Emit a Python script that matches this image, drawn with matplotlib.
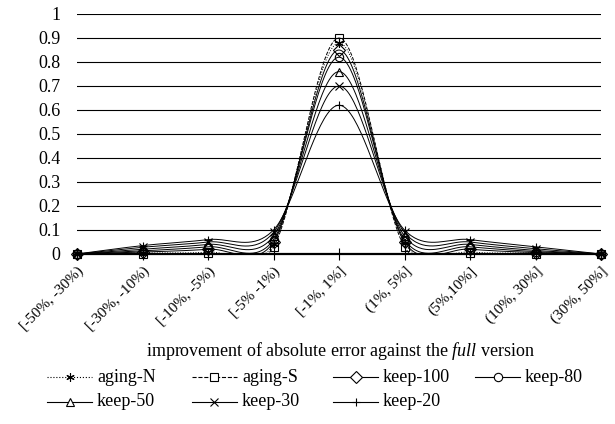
import numpy as np
import matplotlib
matplotlib.use("Agg")
import matplotlib.pyplot as plt
from matplotlib.lines import Line2D
import matplotlib.transforms as mtransforms

plt.rcParams['font.family'] = ['Liberation Serif', 'DejaVu Serif']
plt.rcParams['mathtext.fontset'] = 'custom'
plt.rcParams['mathtext.rm'] = 'Liberation Serif'
plt.rcParams['mathtext.it'] = 'Liberation Serif:italic'

categories = ["[-50%, -30%)", "[-30%, -10%)", "[-10%, -5%)", "[-5% -1%)", "[-1%, 1%]",
              "(1%, 5%]", "(5%,10%]", "(10%, 30%]", "(30%, 50%]"]
yticks = [0, 0.1, 0.2, 0.3, 0.4, 0.5, 0.6, 0.7, 0.8, 0.9, 1]
ytick_labels = ["0", "0.1", "0.2", "0.3", "0.4", "0.5", "0.6", "0.7", "0.8", "0.9", "1"]

aging_n = [0, 0.004, 0.008, 0.04, 0.88, 0.045, 0.008, 0.004, 0]
aging_s = [0, 0.002, 0.003, 0.03, 0.90, 0.03, 0.003, 0.002, 0]
keep_100 = [0, 0.008, 0.02, 0.05, 0.85, 0.05, 0.02, 0.006, 0]
keep_80 = [0, 0.013, 0.03, 0.06, 0.82, 0.06, 0.03, 0.01, 0]
keep_50 = [0, 0.02, 0.04, 0.075, 0.76, 0.075, 0.04, 0.015, 0]
keep_30 = [0, 0.028, 0.05, 0.09, 0.70, 0.09, 0.05, 0.022, 0]
keep_20 = [0, 0.035, 0.06, 0.10, 0.62, 0.10, 0.06, 0.03, 0]

series = [
    ("aging-N", aging_n, ':', (6, 2, 0)),
    ("aging-S", aging_s, '--', 's'),
    ("keep-100", keep_100, '-', 'D'),
    ("keep-80", keep_80, '-', 'o'),
    ("keep-50", keep_50, '-', '^'),
    ("keep-30", keep_30, '-', 'x'),
    ("keep-20", keep_20, '-', '+'),
]

W, H = 615, 424
AX_L, AX_R, AX_T, AX_B = 77, 601, 14, 254


def smooth(xs, ys, sx_px, sy_px, n=40):
    """Excel-like Bezier smoothing, control-point distance capped in pixel space."""
    P = np.column_stack([xs, ys]).astype(float)
    S = np.array([sx_px, sy_px])
    m = len(P)
    out = []

    def dist(a, b):
        return np.hypot(*((a - b) * S))

    for i in range(m - 1):
        p0 = P[i - 1] if i > 0 else P[i]
        p1 = P[i]
        p2 = P[i + 1]
        p3 = P[i + 2] if i + 2 < m else P[i + 1]
        d12 = dist(p1, p2)
        d02 = dist(p0, p2)
        d13 = dist(p1, p3)
        f1 = 1 / 6.0
        f2 = 1 / 6.0
        if d02 / 6.0 > d12 / 2.0 and d02 > 0:
            f1 = d12 / (2.0 * d02)
        if d13 / 6.0 > d12 / 2.0 and d13 > 0:
            f2 = d12 / (2.0 * d13)
        c1 = p1 + (p2 - p0) * f1
        c2 = p2 - (p3 - p1) * f2
        t = np.linspace(0, 1, n)[:, None]
        seg = ((1 - t) ** 3) * p1 + 3 * ((1 - t) ** 2) * t * c1 + 3 * (1 - t) * t ** 2 * c2 + t ** 3 * p2
        out.append(seg if i == 0 else seg[1:])
    out = np.vstack(out)
    return out[:, 0], out[:, 1]


fig = plt.figure(figsize=(W / 100, H / 100), dpi=100)
ax = fig.add_axes([AX_L / W, 1 - AX_B / H, (AX_R - AX_L) / W, (AX_B - AX_T) / H])

x = np.arange(len(categories))
px_per_x = (AX_R - AX_L) / (len(categories) - 1)
px_per_y = (AX_B - AX_T) / 1.0
for name, vals, ls, mk in series:
    sx, sy = smooth(x, vals, px_per_x, px_per_y)
    ax.plot(sx, sy, color='black', lw=0.7, ls=ls, clip_on=True, zorder=3)
    ax.plot(x, vals, ls='none', marker=mk, ms=6.0, mfc='none', mec='black', mew=0.8,
            clip_on=False, zorder=4)

ax.set_xlim(0, len(categories) - 1)
ax.set_ylim(0, 1)
ax.set_yticks(yticks)
ax.set_yticklabels(ytick_labels)
ax.set_xticks(x)
ax.set_xticklabels(categories, rotation=45, ha='right', va='top', rotation_mode='anchor')
for lab in ax.get_xticklabels():
    lab.set_transform(lab.get_transform() + mtransforms.ScaledTranslation(1 / 100, 0, fig.dpi_scale_trans))

for yv in yticks[1:]:
    ax.axhline(yv, color='black', lw=0.8, zorder=1)

for s in ['left', 'right', 'top']:
    ax.spines[s].set_visible(False)
ax.spines['bottom'].set_linewidth(1.6)
ax.spines['bottom'].set_zorder(2)

ax.tick_params(axis='y', length=0, pad=12, labelsize=13)
ax.tick_params(axis='x', direction='inout', length=9, width=0.8, pad=3, labelsize=11)

fig.text(341 / W, 1 - 351 / H, r"improvement of absolute error against the $\mathit{full}$ version",
         ha='center', va='center', fontsize=13)

# Legend laid out like the original (equal-width entries, row-major order)
legend_order = ["aging-N", "aging-S", "keep-100", "keep-80", "keep-50", "keep-30", "keep-20"]
entry_x = [47, 192, 333, 475]
entry_y = [377, 402]
style = {name: (ls, mk) for name, vals, ls, mk in series}
handle_len = 45
for k, name in enumerate(legend_order):
    r, c = divmod(k, 4)
    x0 = entry_x[c]
    y0 = entry_y[r]
    ls, mk = style[name]
    fig.add_artist(Line2D([x0 / W, (x0 + handle_len) / W], [1 - y0 / H, 1 - y0 / H],
                          transform=fig.transFigure, color='black', lw=0.8, ls=ls))
    fig.add_artist(Line2D([(x0 + handle_len / 2) / W], [1 - y0 / H], transform=fig.transFigure,
                          ls='none', marker=mk, ms=6.0, mfc='white', mec='black', mew=0.8))
    fig.text((x0 + handle_len + 5) / W, 1 - y0 / H, name, ha='left', va='center', fontsize=13)

fig.savefig("out.png", dpi=100)
